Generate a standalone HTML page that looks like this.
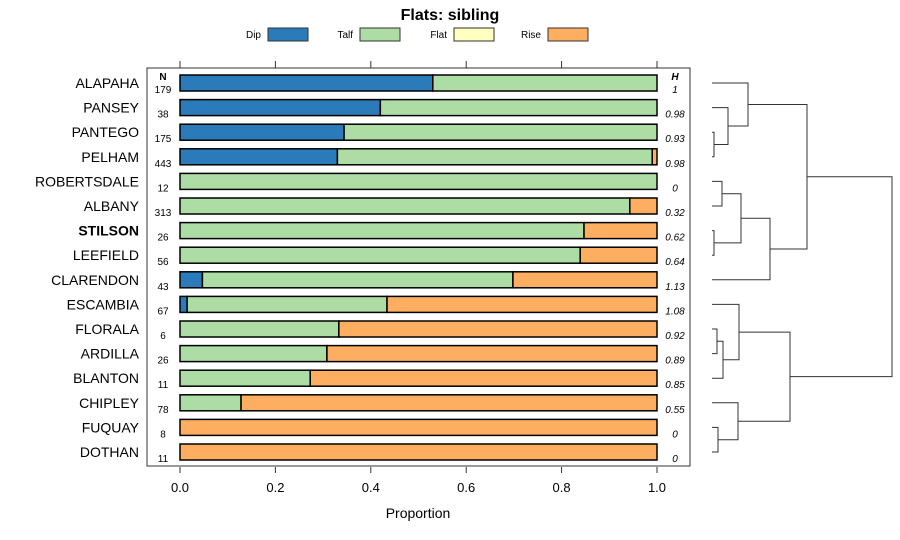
<!DOCTYPE html>
<html><head><meta charset="utf-8"><style>
html,body{margin:0;padding:0;background:#fff;}
svg{display:block;font-family:"Liberation Sans",sans-serif;}
</style></head><body>
<svg id="chart" width="900" height="540" viewBox="0 0 900 540">
<rect x="0" y="0" width="900" height="540" fill="#fff"/>
<text x="450" y="20" text-anchor="middle" font-size="16" font-weight="bold">Flats: sibling</text>
<g id="legend"></g>
<rect x="147" y="68" width="543" height="398" fill="none" stroke="#333" stroke-width="1"/>
<g id="axes"></g>
<g id="bars"></g>
<g id="dendro" stroke="#333" stroke-width="1" fill="none"></g>
<text x="163" y="80" text-anchor="middle" font-size="10" font-weight="bold">N</text>
<text x="675" y="80" text-anchor="middle" font-size="10" font-weight="bold" font-style="italic">H</text>
<text x="418" y="518" text-anchor="middle" font-size="14">Proportion</text>
</svg>
<script>
const categories=["ALAPAHA","PANSEY","PANTEGO","PELHAM","ROBERTSDALE","ALBANY","STILSON","LEEFIELD","CLARENDON","ESCAMBIA","FLORALA","ARDILLA","BLANTON","CHIPLEY","FUQUAY","DOTHAN"];
const dip=[0.53,0.42,0.344,0.33,0,0,0,0,0.047,0.015,0,0,0,0,0,0];
const talf=[0.47,0.58,0.656,0.66,1,0.943,0.847,0.839,0.651,0.419,0.333,0.308,0.273,0.128,0,0];
const flat=[0,0,0,0,0,0,0,0,0,0,0,0,0,0,0,0];
const rise=[0,0,0,0.01,0,0.057,0.153,0.161,0.302,0.566,0.667,0.692,0.727,0.872,1,1];
const nVals=["179","38","175","443","12","313","26","56","43","67","6","26","11","78","8","11"];
const hVals=["1","0.98","0.93","0.98","0","0.32","0.62","0.64","1.13","1.08","0.92","0.89","0.85","0.55","0","0"];
const xTicks=[0,0.2,0.4,0.6,0.8,1.0];
const xTickLabels=["0.0","0.2","0.4","0.6","0.8","1.0"];
const seriesNames=["Dip","Talf","Flat","Rise"];
const colors=["#2b7bba","#addda4","#ffffbf","#fdae61"];
// dendrogram merges: [leftNode,rightNode,height]; leaves 0..15, merges numbered 16+
const merges=[[2,3,2],[1,16,16],[0,17,36],[4,5,10],[6,7,2],[19,20,29],[21,8,58],[18,22,95],[10,11,5],[24,12,11],[9,25,27],[14,15,6],[13,27,26],[26,28,78],[23,29,180]];

const NS="http://www.w3.org/2000/svg";
const X=v=>180+v*477;
const Y=i=>83+i*24.6;
const DX=d=>712+d;
function mk(tag,attrs,parent){const e=document.createElementNS(NS,tag);for(const k in attrs)e.setAttribute(k,attrs[k]);parent.appendChild(e);return e;}

const lg=document.getElementById('legend');
const lx=[243,335,429,523];
seriesNames.forEach((s,i)=>{
  const t=mk('text',{x:lx[i]+18,y:38,'text-anchor':'end','font-size':10},lg);t.textContent=s;
  
  
  const r=mk('rect',{x:lx[i]+25,y:28,width:40,height:13,fill:colors[i],stroke:'#333','stroke-width':1},lg);
  
  
});

const ax=document.getElementById('axes');
xTicks.forEach((v,i)=>{
  const a=mk('line',{x1:X(v),x2:X(v),y1:467,y2:473,stroke:'#333'},ax);
  
  
  const b=mk('line',{x1:X(v),x2:X(v),y1:61,y2:68,stroke:'#333'},ax);
  
  
  const t=mk('text',{x:X(v),y:492,'text-anchor':'middle','font-size':13},ax);t.textContent=xTickLabels[i];
  
  
});

const bg=document.getElementById('bars');
categories.forEach((c,i)=>{
  const y=Y(i);
  const l=mk('text',{x:139,y:y+5,'text-anchor':'end','font-size':14},bg);l.textContent=c;
  if(c==="STILSON")l.setAttribute('font-weight','bold');
  
  
  const n=mk('text',{x:163,y:y+10,'text-anchor':'middle','font-size':10},bg);n.textContent=nVals[i];
  
  
  const h=mk('text',{x:675,y:y+10,'text-anchor':'middle','font-size':10,'font-style':'italic'},bg);h.textContent=hVals[i];
  
  
  let cum=0;
  [dip,talf,flat,rise].forEach((arr,k)=>{
    const v=arr[i];
    if(v>0){
      const r=mk('rect',{x:X(cum),y:y-8,width:X(cum+v)-X(cum),height:16,fill:colors[k],stroke:'#000','stroke-width':1.5},bg);
      
      
    }
    cum+=v;
  });
});

const dg=document.getElementById('dendro');
const nodeY={},nodeH={};
categories.forEach((c,i)=>{nodeY[i]=Y(i);nodeH[i]=0;});
merges.forEach((m,j)=>{
  const id=16+j,[a,b,hh]=m;
  const x=DX(hh);
  const p=mk('path',{d:`M${DX(nodeH[a])},${nodeY[a]}H${x}V${nodeY[b]}H${DX(nodeH[b])}`},dg);
  
  
  nodeY[id]=(nodeY[a]+nodeY[b])/2;nodeH[id]=hh;
});
</script>
</body></html>
